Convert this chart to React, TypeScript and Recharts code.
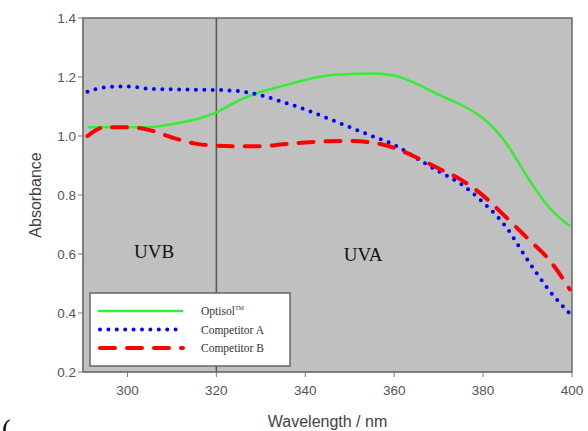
import React from "react";
import {
  LineChart,
  Line,
  XAxis,
  YAxis,
  ReferenceArea,
  ReferenceLine,
  ReferenceDot,
} from "recharts";

// wavelength (nm)
const wavelengths = [291, 295, 300, 305, 310, 315, 320, 325, 330, 335, 340, 345, 350, 355, 360, 365, 370, 375, 380, 385, 390, 395, 399.5];
const optisol = [1.03, 1.03, 1.03, 1.03, 1.04, 1.055, 1.08, 1.12, 1.15, 1.17, 1.19, 1.205, 1.21, 1.212, 1.205, 1.177, 1.14, 1.106, 1.06, 0.98, 0.86, 0.755, 0.695];
const competitorA = [1.15, 1.165, 1.168, 1.16, 1.158, 1.157, 1.156, 1.152, 1.138, 1.115, 1.09, 1.06, 1.03, 1.0, 0.97, 0.925, 0.88, 0.838, 0.775, 0.695, 0.58, 0.474, 0.398];
const competitorB = [1.0, 1.03, 1.03, 1.02, 0.995, 0.975, 0.967, 0.965, 0.965, 0.972, 0.978, 0.982, 0.983, 0.978, 0.96, 0.927, 0.89, 0.852, 0.798, 0.727, 0.653, 0.578, 0.48];

const xTicks = [300, 320, 340, 360, 380, 400];
const yTicks = [0.2, 0.4, 0.6, 0.8, 1.0, 1.2, 1.4];

const data = wavelengths.map((w, i) => ({
  wl: w,
  optisol: optisol[i],
  a: competitorA[i],
  b: competitorB[i],
}));

const SANS = "Liberation Sans, Arial, sans-serif";
const SERIF = "Liberation Serif, Times New Roman, serif";
const tickStyle = { fill: "#555", fontSize: 13.5, fontFamily: SANS };

const regionText = (label: string) => (p: any) => (
  <text
    x={p.cx}
    y={p.cy}
    textAnchor="middle"
    dominantBaseline="middle"
    fontFamily={SERIF}
    fontSize={19}
    fill="#111"
  >
    {label}
  </text>
);

const yLabel = (props: any) => {
  const vb = props.viewBox || {};
  const cy = (vb.y ?? 18) + (vb.height ?? 354) / 2;
  return (
    <text
      x={35}
      y={cy}
      transform={`rotate(-90, 35, ${cy})`}
      textAnchor="middle"
      dominantBaseline="central"
      fontFamily={SANS}
      fontSize={16}
      fill="#444"
    >
      Absorbance
    </text>
  );
};

function LegendBox() {
  const rows = [
    { label: "Optisol", tm: true, color: "#33ee33", dash: undefined, width: 2.5, cap: "butt" },
    { label: "Competitor A", color: "#0000ff", dash: "0 8.4", width: 4, cap: "round" },
    { label: "Competitor B", color: "#ff0000", dash: "15 12", width: 4, cap: "round" },
  ];
  return (
    <svg width={202} height={75} style={{ display: "block" }}>
      <rect x={1} y={1} width={200} height={73} fill="#fff" stroke="#666" strokeWidth={1.5} />
      {rows.map((r, i) => {
        const y = 19 + i * 18.5;
        return (
          <g key={r.label}>
            <line
              x1={r.cap === "round" ? 11 : 9}
              x2={94}
              y1={y}
              y2={y}
              stroke={r.color}
              strokeWidth={r.width}
              strokeDasharray={r.dash}
              strokeLinecap={r.cap as any}
            />
            <text x={112} y={y + 4} fontFamily={SERIF} fontSize={11.5} fill="#333">
              {r.label}
              {r.tm ? (
                <tspan fontSize={6} dy={-5}>
                  TM
                </tspan>
              ) : null}
            </text>
          </g>
        );
      })}
    </svg>
  );
}

export default function App() {
  return (
    <div
      style={{
        position: "absolute",
        left: 0,
        top: 0,
        width: 588,
        height: 431,
        background: "#fff",
        overflow: "hidden",
      }}
    >
      <LineChart width={588} height={431} data={data} margin={{ top: 18, right: 16, bottom: 0, left: 0 }}>
        <ReferenceArea
          x1={290}
          x2={400}
          y1={0.2}
          y2={1.4}
          fill="#c0c0c0"
          fillOpacity={1}
          stroke="#6a6a6a"
          strokeWidth={1.5}
          ifOverflow="visible"
        />
        <XAxis
          dataKey="wl"
          type="number"
          domain={[290, 400]}
          ticks={xTicks}
          allowDataOverflow
          height={59}
          tick={{ ...tickStyle, dy: 6 }}
          tickSize={5}
          stroke="#777"
          label={{
            value: "Wavelength / nm",
            position: "insideBottom",
            offset: 4,
            fill: "#444",
            fontSize: 16,
            fontFamily: SANS,
          }}
        />
        <YAxis
          type="number"
          domain={[0.2, 1.4]}
          ticks={yTicks}
          allowDataOverflow
          width={83}
          tick={tickStyle}
          tickSize={5}
          stroke="#777"
          tickFormatter={(v: number) => v.toFixed(1)}
          label={yLabel}
        />
        <ReferenceLine x={320} stroke="#555" strokeWidth={1.5} />
        <ReferenceDot x={306} y={0.6} r={0} shape={regionText("UVB")} />
        <ReferenceDot x={353} y={0.59} r={0} shape={regionText("UVA")} />
        <Line
          type="monotone"
          dataKey="optisol"
          stroke="#33ee33"
          strokeWidth={2.5}
          dot={false}
          isAnimationActive={false}
        />
        <Line
          type="monotone"
          dataKey="a"
          stroke="#0000ff"
          strokeWidth={4}
          strokeDasharray="0 8.4"
          strokeLinecap="round"
          dot={false}
          isAnimationActive={false}
        />
        <Line
          type="monotone"
          dataKey="b"
          stroke="#ff0000"
          strokeWidth={4}
          strokeDasharray="15 12"
          strokeLinecap="round"
          dot={false}
          isAnimationActive={false}
        />
      </LineChart>
      <div style={{ position: "absolute", left: 89, top: 292 }}>
        <LegendBox />
      </div>
      <div
        style={{
          position: "absolute",
          left: 2,
          top: 414,
          fontFamily: SERIF,
          fontSize: 26,
          lineHeight: "30px",
          color: "#000",
        }}
      >
        (
      </div>
    </div>
  );
}
